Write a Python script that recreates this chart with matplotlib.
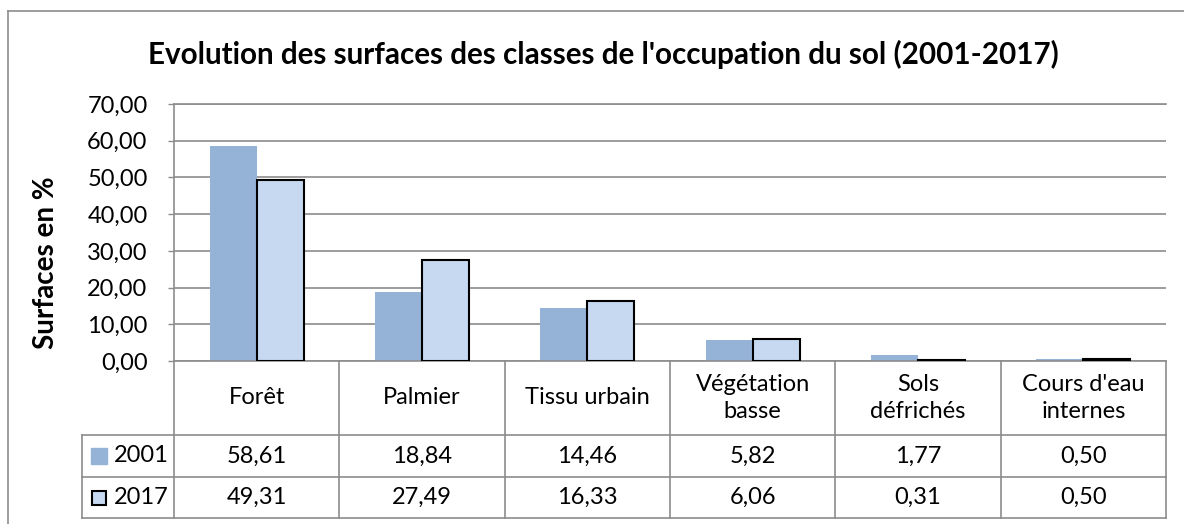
import numpy as np
import matplotlib.pyplot as plt
from matplotlib.lines import Line2D
from matplotlib.ticker import FuncFormatter

categories = ["Forêt", "Palmier", "Tissu urbain", "Végétation\nbasse",
              "Sols\ndéfrichés", "Cours d'eau\ninternes"]
years = ["2001", "2017"]
surf_2001 = [58.61, 18.84, 14.46, 5.82, 1.77, 0.50]
surf_2017 = [49.31, 27.49, 16.33, 6.06, 0.31, 0.50]
y_ticks = [0, 10, 20, 30, 40, 50, 60, 70]

plt.rcParams['font.family'] = ['Lato', 'DejaVu Sans']

W, H = 1184, 524
c_2001 = '#95B3D7'
c_2017 = '#C6D9F1'
grey = '#8C8C8C'
fs = 17


def fx(px):
    return px / W


def fy(py):
    return 1 - py / H


def fmt(v):
    return f"{v:.2f}".replace('.', ',')


fig = plt.figure(figsize=(W / 100, H / 100), dpi=100)

# plot area
ax = fig.add_axes([fx(174), fy(361), fx(1166) - fx(174), fy(104) - fy(361)])
x = np.arange(len(categories))
bw = 47 / 165.33
ax.bar(x - bw / 2, surf_2001, bw, color=c_2001, zorder=2)
ax.bar(x + bw / 2, surf_2017, bw, color=c_2017, edgecolor='black',
       linewidth=1.5, zorder=3)
ax.set_xlim(-0.5, len(categories) - 0.5)
ax.set_ylim(0, 70)
ax.set_xticks([])
ax.set_yticks(y_ticks)
ax.yaxis.set_major_formatter(FuncFormatter(lambda v, p: fmt(v)))
ax.yaxis.grid(True, color=grey, linewidth=1.2)
ax.set_axisbelow(True)
ax.tick_params(axis='y', length=4, width=1, color=grey, pad=15,
               labelsize=fs)
ax.spines['right'].set_visible(False)
for s in ['left', 'bottom', 'top']:
    ax.spines[s].set_color(grey)
    ax.spines[s].set_linewidth(1.2)

# data table under the plot
leg_w = 92 / 165.33
rows = [0, 74, 116, 157]
ax_t = fig.add_axes([fx(82), fy(518), fx(1166) - fx(82), fy(361) - fy(518)])
ax_t.set_xlim(-0.5 - leg_w, len(categories) - 0.5)
ax_t.set_ylim(rows[-1], 0)
ax_t.axis('off')
x0 = -0.5 - leg_w
for b in np.arange(len(categories) + 1) - 0.5:
    ax_t.plot([b, b], [rows[0], rows[-1]], color=grey, lw=1.2, clip_on=False)
ax_t.plot([x0, x0], [rows[1], rows[-1]], color=grey, lw=1.2, clip_on=False)
for r in rows[1:]:
    ax_t.plot([x0, len(categories) - 0.5], [r, r], color=grey, lw=1.2,
              clip_on=False)

for i, cat in enumerate(categories):
    ax_t.text(i, (rows[0] + rows[1]) / 2, cat, ha='center', va='center',
              fontsize=fs, linespacing=1.3)
    ax_t.text(i, (rows[1] + rows[2]) / 2, fmt(surf_2001[i]), ha='center',
              va='center', fontsize=fs)
    ax_t.text(i, (rows[2] + rows[3]) / 2, fmt(surf_2017[i]), ha='center',
              va='center', fontsize=fs)

mk_x = x0 + 17 / 165.33
tx_x = x0 + 32 / 165.33
ax_t.plot(mk_x, (rows[1] + rows[2]) / 2, marker='s', markersize=11.5,
          color=c_2001, clip_on=False)
ax_t.plot(mk_x, (rows[2] + rows[3]) / 2, marker='s', markersize=10.5,
          markerfacecolor=c_2017, markeredgecolor='black',
          markeredgewidth=1.5, clip_on=False)
ax_t.text(tx_x, (rows[1] + rows[2]) / 2, years[0], ha='left', va='center',
          fontsize=fs)
ax_t.text(tx_x, (rows[2] + rows[3]) / 2, years[1], ha='left', va='center',
          fontsize=fs)

# titles
fig.text(fx(603), fy(54), "Evolution des surfaces des classes de l'occupation du sol (2001-2017)",
         ha='center', va='center', fontsize=21.3, weight='bold')
fig.text(fx(46), fy(263), "Surfaces en %", rotation=90, ha='center',
         va='center', fontsize=20, weight='bold')

# chart frame
fig.add_artist(Line2D([fx(8), 1], [fy(11), fy(11)], color=grey, lw=1.2))
fig.add_artist(Line2D([fx(8), fx(8)], [0, fy(11)], color=grey, lw=1.2))

fig.savefig('out.png', dpi=100)
